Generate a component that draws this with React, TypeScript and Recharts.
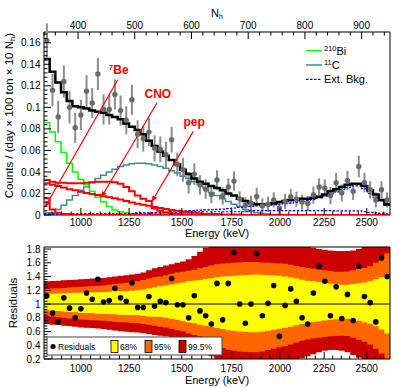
import React from 'react'
import {
  ComposedChart,
  Line,
  Area,
  Scatter,
  ErrorBar,
  XAxis,
  YAxis,
  ReferenceArea,
  ReferenceLine,
} from 'recharts'

const FONT = '"Liberation Sans", Arial, Helvetica, sans-serif'

// 61 bins, 10 N_h wide, from 340 to 950
const NH_MIN = 340
const NH_MAX = 950
const BIN = 10

// top axis (N_h) and bottom axis (energy, placed at its N_h position)
const nhTickLabels = [400, 500, 600, 700, 800, 900]
const energyLabels = [1000, 1250, 1500, 1750, 2000, 2250, 2500]
const energyTickNh = [405, 490, 583, 671, 756, 834, 909]
const countTickLabels = [0, 0.02, 0.04, 0.06, 0.08, 0.1, 0.12, 0.14, 0.16]
const residualTickLabels = [0.2, 0.4, 0.6, 0.8, 1, 1.2, 1.4, 1.6, 1.8]

// data points (counts / day / 100 t / 10 N_h) and errors
const dataPoints = [
  0.162, 0.116, 0.091, 0.124, 0.1, 0.081, 0.093, 0.115, 0.104, 0.131,
  0.098, 0.098, 0.112, 0.097, 0.088, 0.107, 0.075, 0.071, 0.077, 0.062,
  0.061, 0.056, 0.07, 0.047, 0.042, 0.03, 0.038, 0.028, 0.024, 0.019,
  0.0325, 0.0177, 0.026, 0.0315, 0.015, 0.0094, 0.011, 0.0173, 0.0083, 0.01,
  0.014, 0.0064, 0.0127, 0.017, 0.0146, 0.012, 0.0107, 0.0186, 0.026, 0.025,
  0.018, 0.03, 0.0205, 0.032, 0.022, 0.045, 0.03, 0.0235, 0.014, 0.0234,
  0.014,
]
const dataErrors = [
  0.016, 0.015, 0.015, 0.015, 0.015, 0.014, 0.014, 0.015, 0.014, 0.015,
  0.014, 0.014, 0.014, 0.014, 0.013, 0.014, 0.013, 0.012, 0.013, 0.012,
  0.012, 0.012, 0.012, 0.011, 0.011, 0.01, 0.01, 0.009, 0.009, 0.008,
  0.009, 0.008, 0.008, 0.009, 0.007, 0.007, 0.007, 0.008, 0.007, 0.007,
  0.007, 0.006, 0.007, 0.007, 0.007, 0.007, 0.007, 0.008, 0.008, 0.008,
  0.008, 0.009, 0.008, 0.009, 0.008, 0.01, 0.009, 0.008, 0.007, 0.008,
  0.007,
]

// fit components
const totalFit = [
  0.145, 0.133, 0.123, 0.114, 0.106, 0.101, 0.1, 0.099, 0.097, 0.096,
  0.095, 0.093, 0.091, 0.089, 0.085, 0.082, 0.079, 0.075, 0.069, 0.064,
  0.059, 0.055, 0.051, 0.047, 0.042, 0.038, 0.034, 0.031, 0.029, 0.027,
  0.025, 0.023, 0.02, 0.018, 0.015, 0.013, 0.011, 0.01, 0.01, 0.01,
  0.011, 0.012, 0.013, 0.014, 0.014, 0.015, 0.015, 0.016, 0.017, 0.019,
  0.022, 0.024, 0.026, 0.028, 0.029, 0.029, 0.027, 0.023, 0.019, 0.014,
  0.01,
]
const bi210 = [
  0.086, 0.077, 0.068, 0.058, 0.048, 0.04, 0.033, 0.028, 0.022, 0.0165,
  0.0124, 0.0078, 0.0047, 0.003, 0.002, 0.0015, 0.001, 0.0005, 0.0005, 0.0005,
  0, 0, 0, 0, 0, 0, 0, 0, 0, 0,
  0, 0, 0, 0, 0, 0, 0, 0, 0, 0,
  0, 0, 0, 0, 0, 0, 0, 0, 0, 0,
  0, 0, 0, 0, 0, 0, 0, 0, 0, 0,
  0,
]
const c11 = [
  0.002, 0.002, 0.005, 0.009, 0.014, 0.018, 0.023, 0.026, 0.03, 0.034,
  0.037, 0.04, 0.0425, 0.045, 0.0465, 0.0475, 0.048, 0.048, 0.0475, 0.0465,
  0.045, 0.0435, 0.041, 0.039, 0.036, 0.034, 0.031, 0.028, 0.025, 0.021,
  0.018, 0.015, 0.0125, 0.01, 0.008, 0.005, 0.0037, 0.002, 0.0015, 0.001,
  0.0005, 0.0005, 0.0005, 0, 0, 0, 0, 0, 0, 0,
  0, 0, 0, 0, 0, 0, 0, 0, 0, 0,
  0,
]
const be7 = [
  0.0155, 0.005, 0.002, 0.001, 0.0005, 0, 0, 0, 0, 0,
  0, 0, 0, 0, 0, 0, 0, 0, 0, 0,
  0, 0, 0, 0, 0, 0, 0, 0, 0, 0,
  0, 0, 0, 0, 0, 0, 0, 0, 0, 0,
  0, 0, 0, 0, 0, 0, 0, 0, 0, 0,
  0, 0, 0, 0, 0, 0, 0, 0, 0, 0,
  0,
]
const cno = [
  0.0295, 0.028, 0.027, 0.0255, 0.024, 0.023, 0.0215, 0.0205, 0.0195, 0.0185,
  0.0175, 0.0165, 0.0155, 0.0145, 0.013, 0.0115, 0.0105, 0.0095, 0.0085, 0.0075,
  0.0065, 0.0055, 0.0047, 0.004, 0.0033, 0.0027, 0.002, 0.0015, 0.001, 0.001,
  0.001, 0.0005, 0.0005, 0.0005, 0.0005, 0, 0, 0, 0, 0,
  0, 0, 0, 0, 0, 0, 0, 0, 0, 0,
  0, 0, 0, 0, 0, 0, 0, 0, 0, 0,
  0,
]
const pep = [
  0.0325, 0.031, 0.03, 0.03, 0.0295, 0.0295, 0.0295, 0.03, 0.0305, 0.031,
  0.031, 0.031, 0.0305, 0.029, 0.026, 0.022, 0.018, 0.0152, 0.013, 0.006,
  0.004, 0.0025, 0.0015, 0.001, 0.0005, 0.0005, 0, 0, 0, 0,
  0, 0, 0, 0, 0, 0, 0, 0, 0, 0,
  0, 0, 0, 0, 0, 0, 0, 0, 0, 0,
  0, 0, 0, 0, 0, 0, 0, 0, 0, 0,
  0,
]
const extBkgA = [
  0.0005, 0.0005, 0.0005, 0.0005, 0.0005, 0.0005, 0.0005, 0.0005, 0.0005, 0.0005,
  0.0005, 0.0005, 0.0005, 0.0005, 0.0005, 0.001, 0.001, 0.001, 0.001, 0.002,
  0.002, 0.0025, 0.003, 0.003, 0.0035, 0.004, 0.004, 0.0045, 0.0048, 0.005,
  0.0052, 0.0055, 0.006, 0.0065, 0.007, 0.0075, 0.008, 0.0085, 0.009, 0.0093,
  0.0097, 0.01, 0.0105, 0.011, 0.012, 0.0127, 0.0135, 0.0145, 0.0158, 0.0175,
  0.0195, 0.0215, 0.0235, 0.0255, 0.027, 0.027, 0.0245, 0.02, 0.0165, 0.013,
  0.009,
]
const extBkgB = [
  0.001, 0.001, 0.001, 0.001, 0.001, 0.001, 0.001, 0.001, 0.001, 0.001,
  0.001, 0.001, 0.001, 0.001, 0.001, 0.001, 0.002, 0.002, 0.002, 0.002,
  0.002, 0.002, 0.002, 0.002, 0.002, 0.002, 0.003, 0.003, 0.003, 0.003,
  0.003, 0.003, 0.003, 0.003, 0.003, 0.003, 0.004, 0.004, 0.004, 0.004,
  0.004, 0.004, 0.004, 0.004, 0.004, 0.004, 0.004, 0.004, 0.004, 0.004,
  0.004, 0.0038, 0.0038, 0.0038, 0.0038, 0.0038, 0.003, 0.0025, 0.002, 0.0015,
  0.001,
]

// residuals and confidence bands
const residuals = [
  1.12, 0.87, 0.74, 1.09, 0.94, 0.8, 0.93, 1.16, 1.07, 1.36,
  1.03, 1.05, 1.23, 1.09, 1.04, 1.31, 0.95, 0.95, 1.11, 0.97,
  1.04, 1.02, 1.37, 0.99, 0.99, 0.8, 1.12, 0.9, 0.83, 0.71,
  1.3, 0.77, 1.3, 1.75, 1.0, 0.72, 1.0, 1.73, 0.83, 1.01,
  1.27, 0.53, 0.98, 1.22, 1.04, 0.8, 0.71, 1.16, 1.55, 1.33,
  0.83, 1.25, 0.79, 1.14, 0.76, 1.55, 1.11, 1.02, 0.74, 1.67,
  1.4,
]
const band68Hi = [
  1.15, 1.15, 1.155, 1.16, 1.16, 1.165, 1.165, 1.17, 1.17, 1.17,
  1.175, 1.18, 1.185, 1.19, 1.19, 1.195, 1.2, 1.21, 1.225, 1.24,
  1.26, 1.27, 1.285, 1.3, 1.315, 1.33, 1.34, 1.35, 1.365, 1.375,
  1.39, 1.4, 1.405, 1.41, 1.415, 1.42, 1.425, 1.43, 1.425, 1.42,
  1.415, 1.41, 1.4, 1.385, 1.37, 1.355, 1.34, 1.33, 1.32, 1.31,
  1.3, 1.29, 1.28, 1.28, 1.29, 1.3, 1.315, 1.335, 1.36, 1.39,
  1.42,
]
const band68Lo = [
  0.91, 0.905, 0.9, 0.89, 0.885, 0.88, 0.87, 0.87, 0.865, 0.86,
  0.855, 0.85, 0.85, 0.845, 0.84, 0.84, 0.835, 0.83, 0.82, 0.815,
  0.81, 0.8, 0.785, 0.77, 0.75, 0.73, 0.72, 0.7, 0.685, 0.67,
  0.65, 0.635, 0.62, 0.61, 0.6, 0.595, 0.59, 0.59, 0.6, 0.61,
  0.625, 0.64, 0.655, 0.67, 0.69, 0.71, 0.725, 0.74, 0.75, 0.76,
  0.77, 0.78, 0.79, 0.785, 0.77, 0.755, 0.735, 0.71, 0.675, 0.63,
  0.57,
]
const band95Hi = [
  1.22, 1.225, 1.23, 1.235, 1.24, 1.245, 1.25, 1.255, 1.26, 1.265,
  1.27, 1.28, 1.29, 1.3, 1.31, 1.32, 1.33, 1.35, 1.37, 1.39,
  1.4, 1.42, 1.44, 1.46, 1.47, 1.485, 1.5, 1.52, 1.54, 1.56,
  1.58, 1.59, 1.595, 1.6, 1.605, 1.61, 1.61, 1.61, 1.605, 1.6,
  1.595, 1.59, 1.585, 1.57, 1.555, 1.54, 1.525, 1.515, 1.5, 1.49,
  1.48, 1.47, 1.47, 1.475, 1.49, 1.51, 1.525, 1.55, 1.6, 1.67,
  1.74,
]
const band95Lo = [
  0.83, 0.82, 0.81, 0.8, 0.79, 0.785, 0.775, 0.77, 0.765, 0.76,
  0.755, 0.75, 0.74, 0.735, 0.73, 0.725, 0.72, 0.71, 0.7, 0.685,
  0.67, 0.66, 0.64, 0.62, 0.6, 0.57, 0.55, 0.53, 0.48, 0.43,
  0.39, 0.36, 0.335, 0.32, 0.31, 0.305, 0.3, 0.3, 0.31, 0.33,
  0.35, 0.37, 0.385, 0.41, 0.44, 0.465, 0.485, 0.5, 0.51, 0.52,
  0.53, 0.535, 0.54, 0.535, 0.51, 0.48, 0.45, 0.41, 0.35, 0.28,
  0.2,
]
const band995Hi = [
  1.33, 1.335, 1.34, 1.345, 1.35, 1.355, 1.36, 1.365, 1.37, 1.375,
  1.38, 1.39, 1.4, 1.41, 1.42, 1.43, 1.44, 1.46, 1.49, 1.52,
  1.54, 1.56, 1.58, 1.6, 1.62, 1.65, 1.7, 1.76, 1.82, 1.87,
  1.9, 1.92, 1.93, 1.94, 1.95, 1.95, 1.95, 1.95, 1.94, 1.93,
  1.92, 1.91, 1.9, 1.89, 1.88, 1.86, 1.84, 1.82, 1.8, 1.79,
  1.78, 1.77, 1.77, 1.77, 1.78, 1.8, 1.83, 1.87, 1.92, 1.98,
  2.05,
]
const band995Lo = [
  0.71, 0.7, 0.695, 0.685, 0.68, 0.67, 0.66, 0.655, 0.65, 0.645,
  0.635, 0.625, 0.615, 0.605, 0.595, 0.59, 0.585, 0.575, 0.565, 0.55,
  0.54, 0.53, 0.52, 0.51, 0.5, 0.47, 0.42, 0.38, 0.3, 0.24,
  0.2, 0.17, 0.14, 0.12, 0.1, 0.09, 0.08, 0.08, 0.09, 0.1,
  0.11, 0.12, 0.14, 0.16, 0.18, 0.21, 0.24, 0.27, 0.3, 0.32,
  0.33, 0.33, 0.32, 0.3, 0.26, 0.22, 0.18, 0.14, 0.1, 0.05,
  0,
]

// arrows: from label end to the spectrum they point at (N_h, counts)
const annotations = [
  { label: '7Be', from: [470, 0.1256], to: [342, 0.0074] },
  { label: 'CNO', from: [539, 0.104], to: [441, 0.0163] },
  { label: 'pep', from: [603, 0.0775], to: [530, 0.0124] },
]

const COLORS = {
  data: '#6a6a6a',
  dataErr: '#8c8c8c',
  total: '#000000',
  bi210: '#00ff00',
  c11: '#3d8f8f',
  ext: '#0000ff',
  solar: '#ff0000',
  b68: '#ffff00',
  b95: '#ff6600',
  b995: '#cc0000',
}

function hist(vals: number[]) {
  const rows = vals.map((v, i) => ({ n: NH_MIN + i * BIN, v }))
  rows.push({ n: NH_MAX, v: vals[vals.length - 1] })
  return rows
}

function band(lo: number[], hi: number[]) {
  const rows = lo.map((l, i) => ({ n: NH_MIN + i * BIN, v: [l, hi[i]] }))
  rows.push({ n: NH_MAX, v: [lo[lo.length - 1], hi[hi.length - 1]] })
  return rows
}

function points(vals: number[], errs?: number[]) {
  return vals.map((v, i) => ({ n: NH_MIN + (i + 0.5) * BIN, v, e: errs ? errs[i] : 0 }))
}

// major ticks plus `sub` subdivisions, extended to the axis ends
function withMinor(majors: number[], sub: number, lo: number, hi: number) {
  const out: number[] = []
  for (let i = 0; i < majors.length - 1; i++) {
    const a = majors[i]
    const b = majors[i + 1]
    for (let j = 0; j < sub; j++) out.push(a + ((b - a) * j) / sub)
  }
  const last = majors[majors.length - 1]
  out.push(last)
  const d0 = (majors[1] - majors[0]) / sub
  for (let p = majors[0] - d0; p >= lo - 1e-9; p -= d0) out.push(p)
  const d1 = (last - majors[majors.length - 2]) / sub
  for (let p = last + d1; p <= hi + 1e-9; p += d1) out.push(p)
  return out.sort((a, b) => a - b)
}

const findMajor = (list: number[], v: number) => list.findIndex((m) => Math.abs(m - v) < 1e-6)

const energyTicks = withMinor(energyTickNh, 5, NH_MIN, NH_MAX)
const nhTicks = withMinor(nhTickLabels, 5, NH_MIN, NH_MAX)
const countTicks = withMinor(countTickLabels, 5, 0, 0.17)
const residualTicks = withMinor(residualTickLabels, 5, 0.2, 1.83)

const energyTick = (labelDy: number) => (p: any) => {
  const i = findMajor(energyTickNh, p.payload.value)
  return (
    <g>
      <line x1={p.x} x2={p.x} y1={p.y} y2={p.y - (i >= 0 ? 7 : 3.5)} stroke="#000" />
      {i >= 0 && (
        <text x={p.x} y={p.y + labelDy} textAnchor="middle" fontSize={10} fontFamily={FONT} fill="#000">
          {energyLabels[i]}
        </text>
      )}
    </g>
  )
}

const nhTick = (p: any) => {
  const i = findMajor(nhTickLabels, p.payload.value)
  return (
    <g>
      <line x1={p.x} x2={p.x} y1={p.y} y2={p.y + (i >= 0 ? 7 : 3.5)} stroke="#000" />
      {i >= 0 && (
        <text x={p.x} y={p.y - 3.5} textAnchor="middle" fontSize={10} fontFamily={FONT} fill="#000">
          {nhTickLabels[i]}
        </text>
      )}
    </g>
  )
}

const leftTick = (majors: number[]) => (p: any) => {
  const i = findMajor(majors, p.payload.value)
  return (
    <g>
      <line x1={p.x} x2={p.x + (i >= 0 ? 7 : 3.5)} y1={p.y} y2={p.y} stroke="#000" />
      {i >= 0 && (
        <text x={p.x - 3.5} y={p.y + 3.6} textAnchor="end" fontSize={10} fontFamily={FONT} fill="#000">
          {String(parseFloat(majors[i].toFixed(2)))}
        </text>
      )}
    </g>
  )
}

function Arrow(props: any) {
  const { x1, y1, x2, y2, label } = props
  const ang = Math.atan2(y2 - y1, x2 - x1)
  const L = 6
  const W = 2.6
  const bx = x2 - L * Math.cos(ang)
  const by = y2 - L * Math.sin(ang)
  const pts = `${x2},${y2} ${bx - W * Math.sin(ang)},${by + W * Math.cos(ang)} ${bx + W * Math.sin(ang)},${by - W * Math.cos(ang)}`
  const sup = label === '7Be'
  return (
    <g>
      <line x1={x1} y1={y1} x2={bx} y2={by} stroke={COLORS.solar} strokeWidth={1.2} />
      <polygon points={pts} fill={COLORS.solar} />
      <text x={x1 + 1} y={y1 - 5.5} textAnchor="middle" fontSize={12} fontWeight="bold" fontFamily={FONT} fill={COLORS.solar}>
        {sup ? (
          <>
            <tspan fontSize={8} dy={-4}>7</tspan>
            <tspan dy={4}>Be</tspan>
          </>
        ) : (
          label
        )}
      </text>
    </g>
  )
}

function Overlay() {
  return (
    <svg
      width={399}
      height={388}
      style={{ position: 'absolute', left: 0, top: 0, pointerEvents: 'none' }}
      fontFamily={FONT}
    >
      <text x={211} y={17} fontSize={11}>
        N<tspan fontSize={7} dy={2}>h</tspan>
      </text>
      <text transform="translate(13,33) rotate(-90)" textAnchor="end" fontSize={11.5}>
        Counts / (day × 100 ton × 10 N<tspan fontSize={7.5} dy={2}>h</tspan>
        <tspan dy={-2}>)</tspan>
      </text>
      <text x={217} y={236.5} textAnchor="middle" fontSize={11}>Energy (keV)</text>
      <text x={217} y={383.5} textAnchor="middle" fontSize={11}>Energy (keV)</text>
      <text transform="translate(17,303) rotate(-90)" textAnchor="middle" fontSize={11.5}>Residuals</text>

      {/* top legend */}
      <line x1={306} x2={322} y1={50.7} y2={50.7} stroke={COLORS.bi210} strokeWidth={1.5} />
      <text x={324} y={55} fontSize={11}>
        <tspan fontSize={7.5} dy={-4}>210</tspan>
        <tspan dy={4}>Bi</tspan>
      </text>
      <line x1={306} x2={322} y1={65} y2={65} stroke={COLORS.c11} strokeWidth={1.5} />
      <text x={324} y={69} fontSize={11}>
        <tspan fontSize={7.5} dy={-4}>11</tspan>
        <tspan dy={4}>C</tspan>
      </text>
      <line x1={306} x2={322} y1={79.3} y2={79.3} stroke={COLORS.ext} strokeWidth={1.2} strokeDasharray="2.5 1.5" />
      <text x={324} y={83.3} fontSize={11}>Ext. Bkg.</text>

      {/* residual legend */}
      <rect x={47} y={337} width={175} height={18} fill="#fff" stroke="#444" strokeWidth={1} />
      <circle cx={53} cy={346.5} r={2.6} fill="#000" />
      <text x={58} y={349.8} fontSize={8.5}>Residuals</text>
      <rect x={111} y={340.5} width={7} height={12} fill={COLORS.b68} stroke="#000" strokeWidth={0.8} />
      <text x={120} y={349.8} fontSize={8.5}>68%</text>
      <rect x={145} y={340.5} width={7} height={12} fill={COLORS.b95} stroke="#000" strokeWidth={0.8} />
      <text x={154} y={349.8} fontSize={8.5}>95%</text>
      <rect x={179} y={340.5} width={7} height={12} fill={COLORS.b995} stroke="#000" strokeWidth={0.8} />
      <text x={188} y={349.8} fontSize={8.5}>99.5%</text>
    </svg>
  )
}

const histLine = (vals: number[], color: string, width: number, dash?: string) => (
  <Line
    xAxisId="e"
    yAxisId="c"
    data={hist(vals)}
    dataKey="v"
    type="stepAfter"
    stroke={color}
    strokeWidth={width}
    strokeDasharray={dash}
    dot={false}
    activeDot={false}
    isAnimationActive={false}
  />
)

export default function App() {
  return (
    <div style={{ position: 'absolute', left: 0, top: 0, width: 399, height: 388, background: '#fff' }}>
      <div style={{ position: 'absolute', left: 0, top: 0 }}>
        <ComposedChart width={399} height={240} margin={{ top: 0, right: 9, bottom: 0, left: 0 }}>
          <XAxis
            xAxisId="e"
            dataKey="n"
            type="number"
            domain={[NH_MIN, NH_MAX]}
            allowDataOverflow
            ticks={energyTicks}
            interval={0}
            tickSize={0}
            tickMargin={0}
            axisLine={false}
            tickLine={false}
            tick={energyTick(11)}
            height={25}
          />
          <XAxis
            xAxisId="nh"
            orientation="top"
            dataKey="n"
            type="number"
            domain={[NH_MIN, NH_MAX]}
            allowDataOverflow
            ticks={nhTicks}
            interval={0}
            tickSize={0}
            tickMargin={0}
            axisLine={false}
            tickLine={false}
            tick={nhTick}
            height={32}
          />
          <YAxis
            yAxisId="c"
            type="number"
            domain={[0, 0.17]}
            allowDataOverflow
            ticks={countTicks}
            interval={0}
            width={44}
            tickSize={0}
            tickMargin={0}
            axisLine={false}
            tickLine={false}
            tick={leftTick(countTickLabels)}
          />
          <Scatter
            xAxisId="e"
            yAxisId="c"
            data={points(dataPoints, dataErrors)}
            dataKey="v"
            isAnimationActive={false}
            shape={(p: any) => <circle cx={p.cx} cy={p.cy} r={2.7} fill={COLORS.data} />}
          >
            <ErrorBar dataKey="e" direction="y" width={0} stroke={COLORS.dataErr} strokeWidth={2} isAnimationActive={false} />
          </Scatter>
          {histLine(bi210, COLORS.bi210, 1.5)}
          {histLine(c11, COLORS.c11, 1.5)}
          {histLine(extBkgB, COLORS.ext, 1.2, '2.5 1.5')}
          {histLine(extBkgA, COLORS.ext, 1.2, '2.5 1.5')}
          {histLine(cno, COLORS.solar, 2)}
          {histLine(pep, COLORS.solar, 2)}
          {histLine(be7, COLORS.solar, 2)}
          {histLine(totalFit, COLORS.total, 2.5)}
          <ReferenceArea
            xAxisId="e"
            yAxisId="c"
            x1={NH_MIN}
            x2={NH_MAX}
            y1={0}
            y2={0.17}
            fill="none"
            stroke="#000"
            strokeWidth={1}
          />
          {annotations.map((a) => (
            <ReferenceLine
              key={a.label}
              xAxisId="e"
              yAxisId="c"
              segment={[
                { x: a.from[0], y: a.from[1] },
                { x: a.to[0], y: a.to[1] },
              ]}
              stroke={COLORS.solar}
              shape={(p: any) => <Arrow {...p} label={a.label} />}
            />
          ))}
        </ComposedChart>
      </div>

      <div style={{ position: 'absolute', left: 0, top: 240 }}>
        <ComposedChart width={399} height={148} margin={{ top: 7, right: 9, bottom: 0, left: 0 }}>
          <XAxis
            xAxisId="e"
            dataKey="n"
            type="number"
            domain={[NH_MIN, NH_MAX]}
            allowDataOverflow
            ticks={energyTicks}
            interval={0}
            tickSize={0}
            tickMargin={0}
            axisLine={false}
            tickLine={false}
            tick={energyTick(13)}
            height={29}
          />
          <YAxis
            yAxisId="r"
            type="number"
            domain={[0.2, 1.83]}
            allowDataOverflow
            ticks={residualTicks}
            interval={0}
            width={44}
            tickSize={0}
            tickMargin={0}
            axisLine={false}
            tickLine={false}
            tick={leftTick(residualTickLabels)}
          />
          <Area xAxisId="e" yAxisId="r" data={band(band995Lo, band995Hi)} dataKey="v" type="stepAfter"
            stroke="none" fill={COLORS.b995} fillOpacity={1} dot={false} activeDot={false} isAnimationActive={false} />
          <Area xAxisId="e" yAxisId="r" data={band(band95Lo, band95Hi)} dataKey="v" type="stepAfter"
            stroke="none" fill={COLORS.b95} fillOpacity={1} dot={false} activeDot={false} isAnimationActive={false} />
          <Area xAxisId="e" yAxisId="r" data={band(band68Lo, band68Hi)} dataKey="v" type="stepAfter"
            stroke="none" fill={COLORS.b68} fillOpacity={1} dot={false} activeDot={false} isAnimationActive={false} />
          <ReferenceLine xAxisId="e" yAxisId="r" y={1} stroke="#000" strokeWidth={1} />
          <Scatter
            xAxisId="e"
            yAxisId="r"
            data={points(residuals)}
            dataKey="v"
            isAnimationActive={false}
            shape={(p: any) => <circle cx={p.cx} cy={p.cy} r={2.8} fill="#000" />}
          />
          <ReferenceArea
            xAxisId="e"
            yAxisId="r"
            x1={NH_MIN}
            x2={NH_MAX}
            y1={0.2}
            y2={1.83}
            fill="none"
            stroke="#000"
            strokeWidth={1}
          />
        </ComposedChart>
      </div>

      <Overlay />
    </div>
  )
}
